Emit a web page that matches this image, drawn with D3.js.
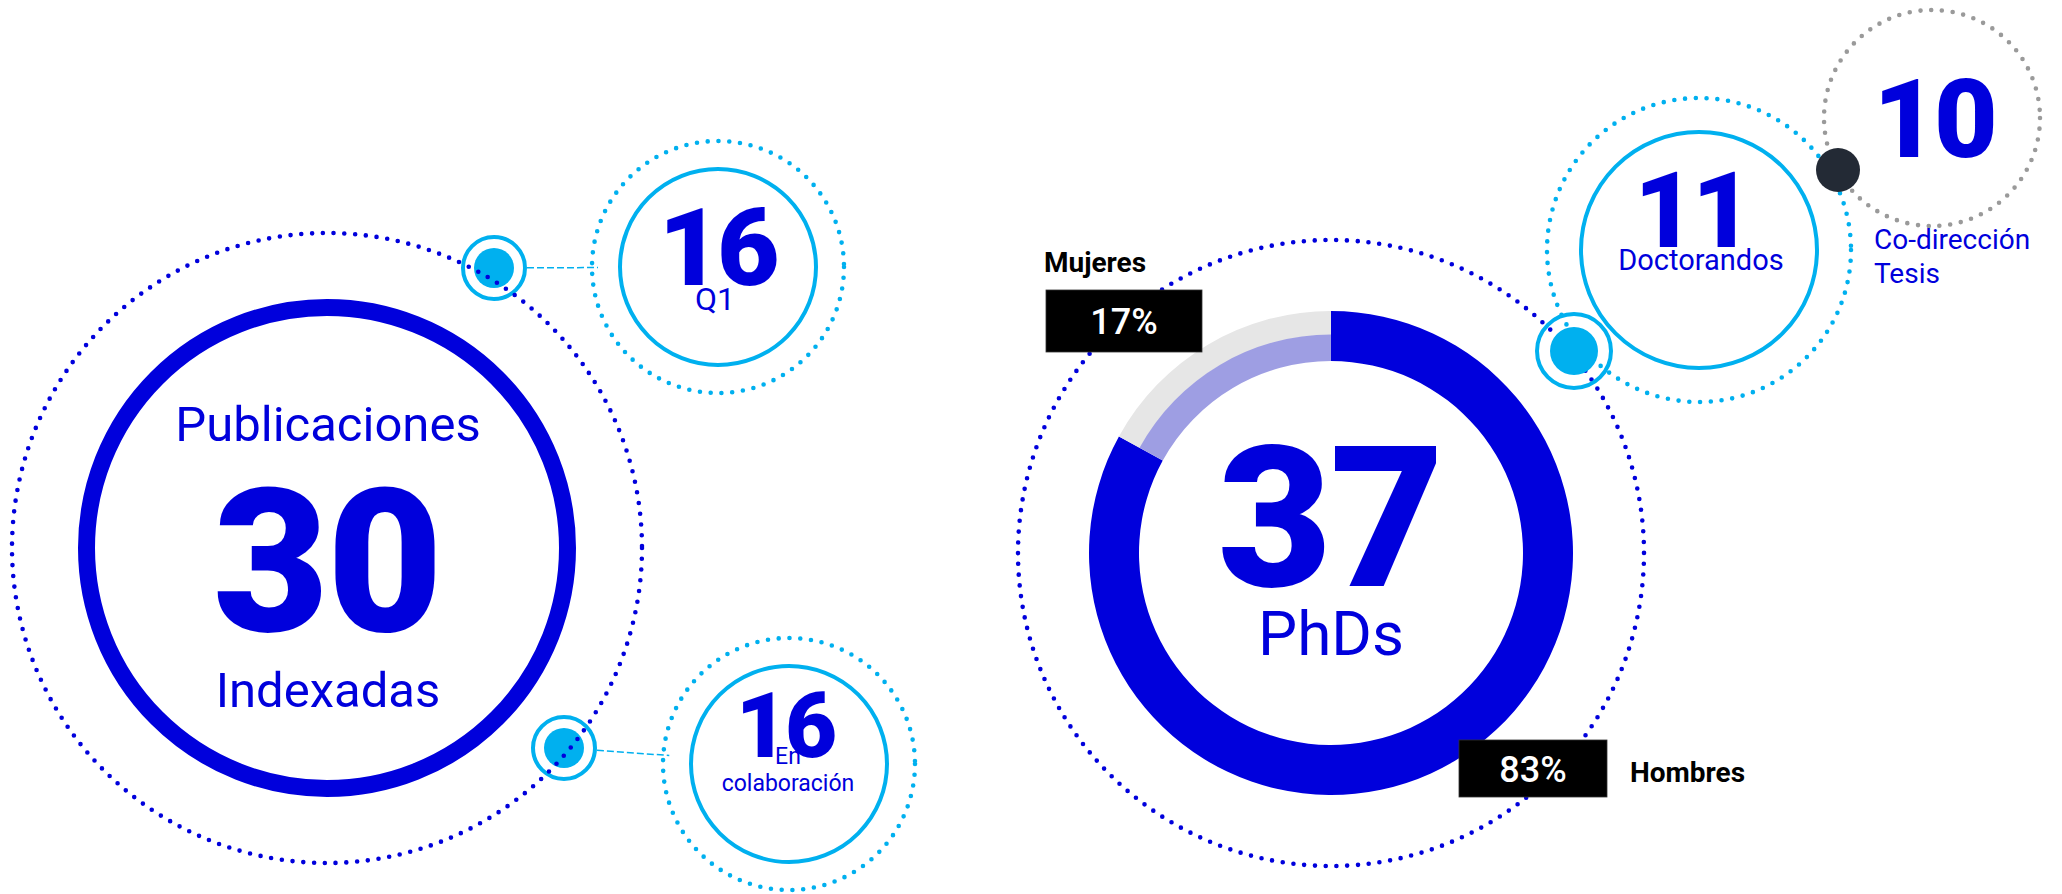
<!DOCTYPE html>
<html>
<head>
<meta charset="utf-8">
<script src="https://cdn.jsdelivr.net/npm/d3@7"></script>
<style>
  body { margin: 0; background: #fff; }
  text { font-family: Roboto, "Noto Sans", sans-serif; }
</style>
</head>
<body>
<svg id="chart"></svg>
<script>
// --- data ---
const pubLabels = ["Publicaciones", "Indexadas"];
const pubTotal = 30;
const pubSubValues = [16, 16];
const pubSubLabels = [["Q1"], ["En", "colaboración"]];

const phdTotal = 37;
const phdLabel = "PhDs";
const genderLabels = ["Hombres", "Mujeres"];
const genderShares = [83, 17];

const phdSubValues = [11, 10];
const phdSubLabels = [["Doctorandos"], ["Co-dirección", "Tesis"]];

// --- layout ---
const width = 2062, height = 894;
const blue = "#0000dc", cyan = "#00b0ef", grey = "#9a9a9a",
  lavender = "#9e9ee3", lightGrey = "#e6e6e6", dark = "#232a35";

const svg = d3.select("#chart")
  .attr("width", width)
  .attr("height", height);

const g = svg.append("g");

function dotted(cx, cy, r, color) {
  return g.append("circle")
    .attr("cx", cx).attr("cy", cy).attr("r", r)
    .attr("fill", "none")
    .attr("stroke", color)
    .attr("stroke-width", 4.6)
    .attr("stroke-linecap", "round")
    .attr("stroke-dasharray", "0 10.8");
}

function ring(cx, cy, r, color, w) {
  return g.append("circle")
    .attr("cx", cx).attr("cy", cy).attr("r", r)
    .attr("fill", "none")
    .attr("stroke", color)
    .attr("stroke-width", w);
}

function node(cx, cy, rFill, rRing) {
  ring(cx, cy, rRing, cyan, 4);
  g.append("circle").attr("cx", cx).attr("cy", cy).attr("r", rFill).attr("fill", cyan);
}

function label(x, y, txt, size, weight, color, anchor) {
  return g.append("text")
    .attr("x", x).attr("y", y)
    .attr("text-anchor", anchor || "middle")
    .attr("font-size", size)
    .attr("font-weight", weight)
    .attr("fill", color || blue)
    .text(txt);
}

// ===== Publicaciones =====
const pub = { x: 327, y: 548 };
const pubNodes = [{ x: 494, y: 268 }, { x: 564, y: 748 }];
const pubSats = [{ x: 718, y: 267, num: 108 }, { x: 789, y: 764, num: 90 }];

ring(pub.x, pub.y, 240.5, blue, 17);
pubNodes.forEach(n => node(n.x, n.y, 20, 31));
dotted(pub.x, pub.y, 315, blue);

pubSats.forEach((s, i) => {
  const n = pubNodes[i];
  const dx = s.x - n.x, dy = s.y - n.y, len = Math.hypot(dx, dy);
  g.append("line")
    .attr("x1", n.x + dx / len * 33).attr("y1", n.y + dy / len * 33)
    .attr("x2", s.x - dx / len * 120).attr("y2", s.y - dy / len * 120)
    .attr("stroke", cyan).attr("stroke-width", 1.5)
    .attr("stroke-dasharray", "7 3");
  ring(s.x, s.y, 98, cyan, 4);
  dotted(s.x, s.y, 126, cyan);
});

label(pub.x + 1, 441, pubLabels[0], 49, 400);
label(pub.x, 631, pubTotal, 200, 900).attr("letter-spacing", -2);
label(pub.x + 1, 707, pubLabels[1], 49, 400);

// Q1
label(pubSats[0].x - 1, 285, pubSubValues[0], 108, 900).attr("letter-spacing", -4);
label(pubSats[0].x - 3, 310, pubSubLabels[0][0], 32, 400);
// En colaboración
label(pubSats[1].x - 4, 757, pubSubValues[1], 90, 900).attr("letter-spacing", -3);
pubSubLabels[1].forEach((t, j) => label(pubSats[1].x - 1, 764 + j * 27, t, 23, 400));

// ===== PhDs =====
const phd = { x: 1331, y: 553 };
const docSat = { x: 1699, y: 250 };
const coSat = { x: 1932, y: 118 };
const phdNode = { x: 1574, y: 351 };
const darkNode = { x: 1838, y: 170 };

dotted(phd.x, phd.y, 313, blue);
ring(docSat.x, docSat.y, 118, cyan, 4);
dotted(docSat.x, docSat.y, 152, cyan);
dotted(coSat.x, coSat.y, 108, grey);

// phd node sits on top of the dotted rings
ring(phdNode.x, phdNode.y, 37, cyan, 4);
g.append("circle").attr("cx", phdNode.x).attr("cy", phdNode.y).attr("r", 24).attr("fill", cyan);
g.append("circle").attr("cx", darkNode.x).attr("cy", darkNode.y).attr("r", 22).attr("fill", dark);

// donut
const pie = d3.pie().sort(null).value(d => d)(genderShares);
const donut = g.append("g").attr("transform", `translate(${phd.x},${phd.y})`);
const arcOuter = d3.arc().innerRadius(192).outerRadius(242);
const arcWomenOut = d3.arc().innerRadius(218).outerRadius(242);
const arcWomenIn = d3.arc().innerRadius(192).outerRadius(218.5);

donut.append("path").attr("d", arcOuter(pie[0])).attr("fill", blue);
donut.append("path").attr("d", arcWomenOut(pie[1])).attr("fill", lightGrey);
donut.append("path").attr("d", arcWomenIn(pie[1])).attr("fill", lavender);

label(phd.x - 1, 586, phdTotal, 197, 900).attr("letter-spacing", -2);
label(phd.x, 655, phdLabel, 62, 400);

// share boxes
const fmt = d => d + "%";
const boxes = [
  { x: 1459, y: 740, w: 148, h: 57, name: { x: 1630, y: 782 } },
  { x: 1046, y: 290, w: 156, h: 62, name: { x: 1044, y: 272 } }
];
boxes.forEach((b, i) => {
  g.append("rect").attr("x", b.x).attr("y", b.y).attr("width", b.w).attr("height", b.h)
    .attr("fill", "#000").attr("stroke", "#333").attr("stroke-width", 0.8);
  label(b.x + b.w / 2, b.y + b.h / 2 + 13, fmt(genderShares[i]), 36, 500, "#fff");
  label(b.name.x, b.name.y, genderLabels[i], 28, 700, "#000", "start");
});

// Doctorandos
label(docSat.x - 7, 247, phdSubValues[0], 105, 900).attr("letter-spacing", -3);
label(docSat.x + 2, 270, phdSubLabels[0][0], 29, 400);
// Co-dirección Tesis
label(coSat.x + 2, 157, phdSubValues[1], 110, 900).attr("letter-spacing", -3);
phdSubLabels[1].forEach((t, j) => label(1874, 249 + j * 34, t, 28, 400, blue, "start"));
</script>
</body>
</html>
